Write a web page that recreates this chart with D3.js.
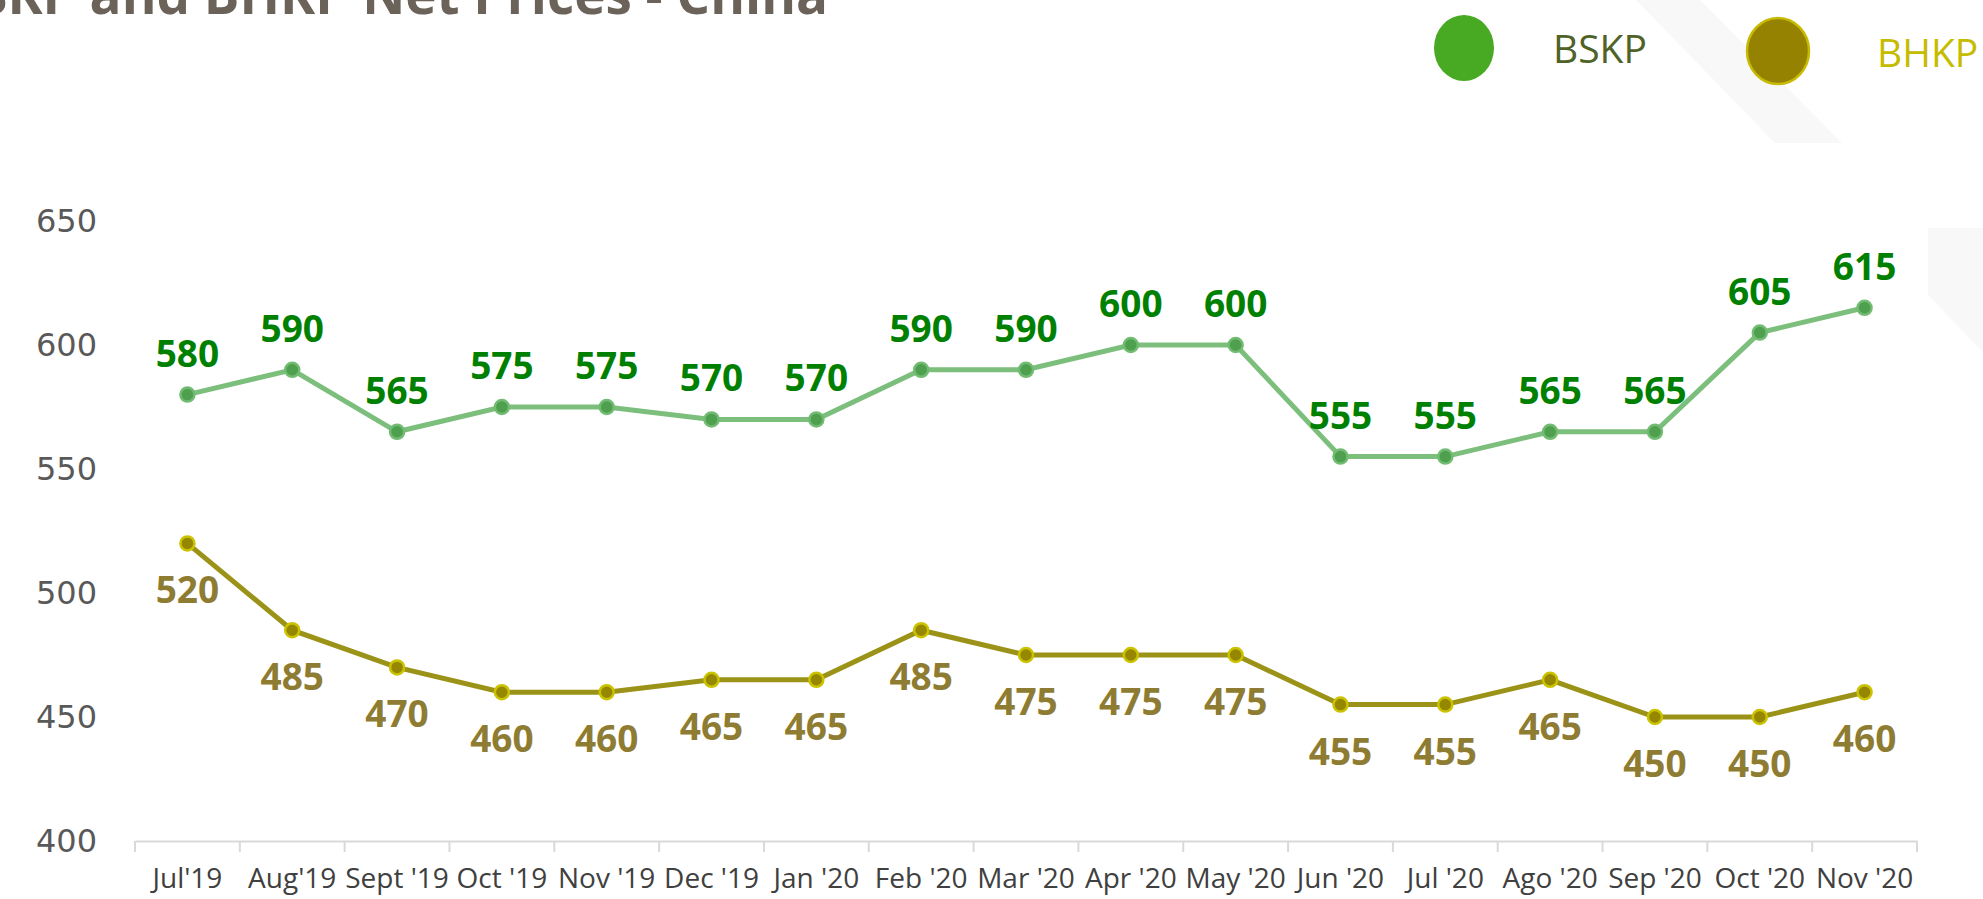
<html>
<head>
<meta charset="utf-8">
<script src="https://d3js.org/d3.v7.min.js"></script>
<style>
body { margin: 0; background: #ffffff; }
.chart text { font-family: "Open Sans", sans-serif; }
.yaxis text { font-family: "DejaVu Sans", sans-serif; font-size: 32px; fill: #595959; }
.xaxis text { font-size: 28px; fill: #404040; }
.lbl { font-weight: bold; font-size: 37px; text-anchor: middle; }
</style>
</head>
<body>
<script>
// chart data
var categories = ["Jul'19", "Aug'19", "Sept '19", "Oct '19", "Nov '19", "Dec '19", "Jan '20", "Feb '20",
    "Mar '20", "Apr '20", "May '20", "Jun '20", "Jul '20", "Ago '20", "Sep '20", "Oct '20", "Nov '20"];
var bskp = [580, 590, 565, 575, 575, 570, 570, 590, 590, 600, 600, 555, 555, 565, 565, 605, 615];
var bhkp = [520, 485, 470, 460, 460, 465, 465, 485, 475, 475, 475, 455, 455, 465, 450, 450, 460];
var yTicks = [400, 450, 500, 550, 600, 650];
var seriesNames = ["BSKP", "BHKP"];
var title = "BSKP and BHKP Net Prices - China";

var W = 1983, H = 899;
var margin = {left: 135, right: 66, top: 221, bottom: 58};

var svg = d3.select("body").append("svg")
    .attr("width", W)
    .attr("height", H)
    .attr("class", "chart");

// faint background stripes
svg.append("polygon")
    .attr("points", "1636,0 1700,0 1842,143 1775,143")
    .attr("fill", "#f8f8f8");
svg.append("polygon")
    .attr("points", "1928,228 1983,228 1983,352 1928,295")
    .attr("fill", "#f8f8f8");

// title (cut off at top, as in the slide)
svg.append("text")
    .attr("x", 828)
    .attr("y", 14)
    .attr("text-anchor", "end")
    .style("font-weight", "bold")
    .style("font-size", "53px")
    .style("fill", "#6b6359")
    .text(title);

var x = d3.scaleBand()
    .domain(categories)
    .range([margin.left, W - margin.right])
    .paddingInner(0)
    .paddingOuter(0);

var y = d3.scaleLinear()
    .domain([400, 650])
    .range([H - margin.bottom, margin.top]);

function cx(d) { return x(d) + x.bandwidth() / 2; }

// y axis labels only
svg.append("g")
    .attr("class", "yaxis")
    .attr("transform", "translate(" + margin.left + ",0)")
    .call(d3.axisLeft(y).tickValues(yTicks).tickSize(0).tickPadding(38).tickFormat(d3.format("d")))
    .call(function(g) { g.select(".domain").remove(); });

// x axis
var xg = svg.append("g")
    .attr("class", "xaxis")
    .attr("transform", "translate(0," + y(400) + ")")
    .call(d3.axisBottom(x).tickSize(0).tickPadding(27));
xg.select(".domain").attr("stroke", "#d9d9d9").attr("stroke-width", 2);

// boundary ticks between categories
var edges = categories.map(function(c) { return x(c); }).concat([x.range()[1]]);
xg.selectAll("line.edge")
    .data(edges)
  .enter().append("line")
    .attr("class", "edge")
    .attr("x1", function(d) { return d; })
    .attr("x2", function(d) { return d; })
    .attr("y1", 0)
    .attr("y2", 11)
    .attr("stroke", "#d9d9d9")
    .attr("stroke-width", 2);

var line = d3.line()
    .x(function(d, i) { return cx(categories[i]); })
    .y(function(d) { return y(d); });

// BSKP series
svg.append("path")
    .datum(bskp)
    .attr("d", line)
    .attr("fill", "none")
    .attr("stroke", "#7cbf7c")
    .attr("stroke-width", 5);

svg.selectAll("circle.bskp")
    .data(bskp)
  .enter().append("circle")
    .attr("class", "bskp")
    .attr("cx", function(d, i) { return cx(categories[i]); })
    .attr("cy", function(d) { return y(d); })
    .attr("r", 7)
    .attr("fill", "#4e9f4e")
    .attr("stroke", "#72bb72")
    .attr("stroke-width", 2.5);

svg.selectAll("text.bskpl")
    .data(bskp)
  .enter().append("text")
    .attr("class", "lbl bskpl")
    .attr("x", function(d, i) { return cx(categories[i]); })
    .attr("y", function(d) { return y(d) - 28; })
    .style("fill", "#008000")
    .text(function(d) { return d; });

// BHKP series
svg.append("path")
    .datum(bhkp)
    .attr("d", line)
    .attr("fill", "none")
    .attr("stroke", "#9b9318")
    .attr("stroke-width", 5);

svg.selectAll("circle.bhkp")
    .data(bhkp)
  .enter().append("circle")
    .attr("class", "bhkp")
    .attr("cx", function(d, i) { return cx(categories[i]); })
    .attr("cy", function(d) { return y(d); })
    .attr("r", 7)
    .attr("fill", "#958800")
    .attr("stroke", "#cbc300")
    .attr("stroke-width", 2.5);

svg.selectAll("text.bhkpl")
    .data(bhkp)
  .enter().append("text")
    .attr("class", "lbl bhkpl")
    .attr("x", function(d, i) { return cx(categories[i]); })
    .attr("y", function(d) { return y(d) + 60; })
    .style("fill", "#8e7c32")
    .text(function(d) { return d; });

// legend
var legend = [
    {name: seriesNames[0], cx: 1464, cy: 48, rx: 30, ry: 33, fill: "#48a923", stroke: "none", tx: 1553, ty: 63, color: "#4f6228"},
    {name: seriesNames[1], cx: 1778, cy: 51, rx: 31, ry: 33, fill: "#948200", stroke: "#c8ba00", tx: 1877, ty: 67, color: "#c5bc00"}
];
var lg = svg.selectAll("g.legend")
    .data(legend)
  .enter().append("g")
    .attr("class", "legend");
lg.append("ellipse")
    .attr("cx", function(d) { return d.cx; })
    .attr("cy", function(d) { return d.cy; })
    .attr("rx", function(d) { return d.rx; })
    .attr("ry", function(d) { return d.ry; })
    .attr("fill", function(d) { return d.fill; })
    .attr("stroke", function(d) { return d.stroke; })
    .attr("stroke-width", 2.5);
lg.append("text")
    .attr("x", function(d) { return d.tx; })
    .attr("y", function(d) { return d.ty; })
    .style("font-size", "39px")
    .style("fill", function(d) { return d.color; })
    .text(function(d) { return d.name; });
</script>
</body>
</html>
